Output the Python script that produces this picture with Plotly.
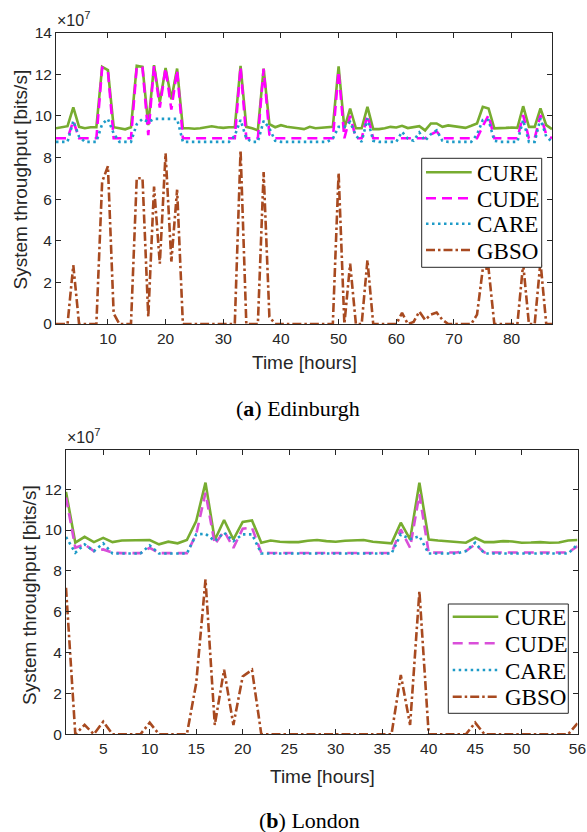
import plotly.graph_objects as go

# ---------------- data (values in units of 1e7 bits/s) ----------------
edi_hours = list(range(1, 88))
edi_cure = [9.4, 9.45, 9.5, 10.4, 9.47, 9.4, 9.45, 9.45, 12.35, 12.2,
            9.45, 9.4, 9.35, 9.45, 12.4, 12.35, 9.55, 12.43, 10.65, 12.3,
            10.8, 12.27, 9.4, 9.4, 9.38, 9.4, 9.45, 9.5, 9.45, 9.42,
            9.45, 9.45, 12.4, 9.47, 9.4, 9.3, 12.27, 9.6, 9.45, 9.55,
            9.47, 9.42, 9.4, 9.36, 9.47, 9.4, 9.42, 9.44, 9.47, 12.38,
            9.4, 10.35, 9.4, 9.4, 10.43, 9.36, 9.36, 9.4, 9.47, 9.44,
            9.52, 9.41, 9.46, 9.5, 9.3, 9.63, 9.63, 9.47, 9.54, 9.5,
            9.47, 9.42, 9.52, 9.63, 10.43, 10.35, 9.4, 9.4, 9.42, 9.44,
            9.42, 10.46, 9.47, 9.47, 10.35, 9.55, 9.36]
edi_cude = [8.92, 8.92, 8.92, 9.76, 8.92, 8.92, 8.92, 8.92, 12.3, 12.15,
            8.92, 8.92, 8.92, 8.92, 12.35, 12.3, 9.07, 12.4, 10.4, 12.3,
            10.3, 12.2, 8.92, 8.92, 8.92, 8.92, 8.92, 8.92, 8.92, 8.92,
            8.92, 8.92, 12.35, 8.92, 8.92, 8.92, 12.25, 9.1, 8.92, 8.92,
            8.92, 8.92, 8.92, 8.92, 8.92, 8.92, 8.92, 8.92, 8.92, 12.15,
            8.92, 10.0, 8.92, 8.92, 10.03, 8.92, 8.92, 8.92, 8.92, 8.92,
            8.92, 8.92, 8.92, 8.92, 8.92, 9.1, 9.25, 8.92, 8.92, 8.92,
            8.92, 8.92, 8.92, 8.92, 9.5, 10.03, 8.92, 8.92, 8.92, 8.92,
            8.92, 10.03, 8.92, 8.92, 10.03, 9.1, 8.92]
edi_care = [8.75, 8.75, 8.75, 9.75, 9.0, 8.75, 8.75, 8.75, 9.6, 9.85,
            9.15, 8.75, 8.75, 8.75, 9.6, 9.85, 9.7, 9.85, 9.85, 9.85,
            9.85, 9.85, 8.75, 8.75, 8.75, 8.75, 8.75, 8.75, 8.75, 8.75,
            8.75, 9.05, 9.8, 8.9, 8.75, 8.75, 9.76, 9.4, 8.8, 8.75,
            8.75, 8.75, 8.75, 8.75, 8.75, 8.75, 8.75, 8.75, 8.9, 9.47,
            9.47, 9.7, 9.05, 8.75, 9.87, 8.8, 8.75, 8.75, 8.75, 8.75,
            9.23, 8.9, 8.8, 9.2, 8.8, 9.12, 9.3, 8.8, 8.75, 8.75,
            8.75, 8.75, 8.75, 9.1, 9.8, 9.8, 8.8, 8.75, 8.75, 8.75,
            8.75, 9.8, 8.75, 8.75, 9.87, 9.0, 8.75]
edi_gbso = [0, 0, 0, 2.83, 0, 0, 0, 0, 6.83, 7.58,
            0.5, 0, 0, 0, 7.0, 7.0, 0.35, 6.6, 2.9, 8.2,
            3.0, 6.45, 0, 0, 0, 0, 0, 0, 0, 0,
            0, 0, 8.35, 0, 0, 0, 7.3, 0.35, 0, 0,
            0, 0, 0, 0, 0, 0, 0, 0, 0, 7.26,
            0, 2.9, 0, 0, 3.07, 0, 0, 0, 0, 0,
            0.53, 0, 0.1, 0.6, 0.2, 0.45, 0.55, 0.2, 0, 0,
            0, 0, 0, 0.45, 2.65, 2.67, 0, 0, 0, 0,
            0, 2.9, 0, 0, 3.0, 0, 0]

lon_hours = list(range(1, 57))
lon_cure = [11.87, 9.38, 9.67, 9.41, 9.62, 9.41, 9.49, 9.49, 9.51, 9.51,
            9.3, 9.43, 9.35, 9.51, 10.44, 12.32, 9.51, 10.49, 9.54, 10.4,
            10.47, 9.38, 9.49, 9.43, 9.41, 9.41, 9.48, 9.51, 9.46, 9.43,
            9.48, 9.49, 9.51, 9.43, 9.38, 9.35, 10.36, 9.54, 12.32, 9.54,
            9.49, 9.46, 9.43, 9.38, 9.62, 9.41, 9.41, 9.46, 9.44, 9.38,
            9.39, 9.41, 9.38, 9.39, 9.49, 9.51]
lon_cude = [11.6, 9.13, 9.3, 8.97, 9.05, 8.89, 8.87, 8.87, 8.87, 9.13,
            8.87, 8.87, 8.87, 8.87, 9.79, 11.83, 9.3, 9.95, 9.13, 10.07,
            10.11, 8.89, 8.88, 8.88, 8.88, 8.88, 8.88, 8.88, 8.88, 8.88,
            8.88, 8.88, 8.88, 8.88, 8.88, 8.88, 10.03, 9.13, 11.75, 8.89,
            8.9, 8.9, 8.9, 8.97, 9.3, 8.9, 8.9, 8.9, 8.9, 8.9,
            8.9, 8.9, 8.9, 8.9, 8.9, 9.21]
lon_care = [9.66, 8.89, 9.3, 8.97, 9.35, 8.85, 8.85, 8.85, 8.85, 9.25,
            8.85, 8.85, 8.85, 8.85, 9.79, 9.82, 9.46, 9.87, 9.46, 9.79,
            9.79, 8.85, 8.85, 8.85, 8.85, 8.85, 8.85, 8.85, 8.85, 8.85,
            8.85, 8.85, 8.85, 8.85, 8.85, 8.85, 9.79, 9.55, 9.7, 8.85,
            8.85, 8.85, 8.85, 8.97, 9.38, 8.85, 8.85, 8.85, 8.85, 8.85,
            8.85, 8.85, 8.85, 8.85, 8.85, 9.3]
lon_gbso = [7.17, 0, 0.46, 0, 0.62, 0, 0, 0, 0, 0.57,
            0, 0, 0, 0, 2.5, 7.58, 0.46, 3.16, 0.46, 2.83,
            3.16, 0, 0, 0, 0, 0, 0, 0, 0, 0,
            0, 0, 0, 0, 0, 0, 2.91, 0.46, 7.0, 0,
            0, 0, 0, 0, 0.57, 0, 0, 0, 0, 0,
            0, 0, 0, 0, 0, 0.54]

SCALE = 1e7
y_tick_vals = [0, 2, 4, 6, 8, 10, 12, 14]
y_tick_vals_lon = [0, 2, 4, 6, 8, 10, 12]
edi_x_ticks = [10, 20, 30, 40, 50, 60, 70, 80]
lon_x_ticks = [5, 10, 15, 20, 25, 30, 35, 40, 45, 50, 56]

names = ["CURE", "CUDE", "CARE", "GBSO"]

# ---------------- styles ----------------
W, H = 587, 832
C_CURE = "#77AC30"
C_CUDE_A = "#FF00FF"
C_CUDE_B = "#D94FD9"
C_CARE = "#1E9BC8"
C_GBSO = "#A84A20"
LW = 2.6
styles_a = [dict(color=C_CURE, width=LW, dash="solid"),
            dict(color=C_CUDE_A, width=LW, dash="10px,6px"),
            dict(color=C_CARE, width=LW, dash="2.5px,3.5px"),
            dict(color=C_GBSO, width=LW, dash="9px,3px,2.5px,3px")]
styles_b = [dict(color=C_CURE, width=LW, dash="solid"),
            dict(color=C_CUDE_B, width=LW, dash="10px,6px"),
            dict(color=C_CARE, width=LW, dash="2.5px,3.5px"),
            dict(color=C_GBSO, width=LW, dash="9px,3px,2.5px,3px")]

fig = go.Figure()

edi_series = [edi_cure, edi_cude, edi_care, edi_gbso]
lon_series = [lon_cure, lon_cude, lon_care, lon_gbso]

for name, vals, st in zip(names, edi_series, styles_a):
    fig.add_trace(go.Scatter(x=edi_hours, y=[v * SCALE for v in vals], mode="lines",
                             name=name, line=st, xaxis="x", yaxis="y", showlegend=False))
for name, vals, st in zip(names, lon_series, styles_b):
    fig.add_trace(go.Scatter(x=lon_hours, y=[v * SCALE for v in vals], mode="lines",
                             name=name, line=st, xaxis="x2", yaxis="y2", showlegend=False))

AX = "#262626"
tickfont = dict(family="Liberation Sans, Arial, sans-serif", size=15.5, color=AX)
common = dict(showline=True, linecolor=AX, linewidth=1, mirror="ticks", ticks="inside",
              ticklen=5, tickcolor=AX, tickwidth=1, tickfont=tickfont,
              showgrid=False, zeroline=False, automargin=False)

def px_x(p):
    return p / W

def px_y(p):
    return (H - p) / H

fig.update_layout(
    width=W, height=H, margin=dict(l=0, r=0, t=0, b=0, autoexpand=False),
    paper_bgcolor="white", plot_bgcolor="white",
    xaxis=dict(domain=[px_x(56), px_x(552)], range=[1, 87.001], anchor="y",
               tickvals=edi_x_ticks, **common),
    yaxis=dict(domain=[px_y(324), px_y(32.5)], range=[0, 14.001 * SCALE], anchor="x",
               tickvals=[v * SCALE for v in y_tick_vals],
               ticktext=[str(v) for v in y_tick_vals], **common),
    xaxis2=dict(domain=[px_x(66), px_x(577.5)], range=[0.999, 56.001], anchor="y2",
                tickvals=lon_x_ticks, **common),
    yaxis2=dict(domain=[px_y(734.3), px_y(450)], range=[0, 13.92 * SCALE], anchor="x2",
                tickvals=[v * SCALE for v in y_tick_vals_lon],
                ticktext=[str(v) for v in y_tick_vals_lon], **common),
    showlegend=False,
)

# ---------------- legends (drawn as boxed keys) ----------------
legend_font = dict(family="Liberation Serif, Times New Roman, serif", size=23, color="#000000")
legend_boxes = [
    dict(box=(421.7, 158.3, 541.7, 267.3), rows=(172.3, 198.3, 223.8, 250.0),
         line=(426, 471.7), text_x=475, styles=styles_a),
    dict(box=(448.3, 604.0, 568.3, 713.3), rows=(616.7, 643.3, 670.0, 696.7),
         line=(452.7, 498.3), text_x=502.7, styles=styles_b),
]
shapes = []
annotations = []
for lg in legend_boxes:
    x0, y0, x1, y1 = lg["box"]
    shapes.append(dict(type="rect", xref="paper", yref="paper", layer="above",
                       x0=px_x(x0), x1=px_x(x1), y0=px_y(y1), y1=px_y(y0),
                       fillcolor="white", line=dict(color=AX, width=1)))
    for name, ry, st in zip(names, lg["rows"], lg["styles"]):
        shapes.append(dict(type="line", xref="paper", yref="paper", layer="above",
                           x0=px_x(lg["line"][0]), x1=px_x(lg["line"][1]),
                           y0=px_y(ry), y1=px_y(ry), line=st))
        annotations.append(dict(text=name, x=px_x(lg["text_x"]), y=px_y(ry + 1),
                                xanchor="left", yanchor="middle", font=legend_font))

title_font = dict(family="Liberation Sans, Arial, sans-serif", size=19, color=AX)
cap_font = dict(family="Liberation Serif, Times New Roman, serif", size=22, color="#000000")
exp_font = dict(family="Liberation Sans, Arial, sans-serif", size=16, color=AX)

annotations += [
    dict(text="Time [hours]", x=px_x(304), y=px_y(363), font=title_font),
    dict(text="System throughput [bits/s]", x=px_x(19.5), y=px_y(180), textangle=-90, font=title_font),
    dict(text="Time [hours]", x=px_x(322.5), y=px_y(776.5), font=title_font),
    dict(text="System throughput [bits/s]", x=px_x(29), y=px_y(595), textangle=-90, font=title_font),
    dict(text="(<b>a</b>) Edinburgh", x=px_x(297.5), y=px_y(408), font=cap_font),
    dict(text="(<b>b</b>) London", x=px_x(309), y=px_y(820), font=cap_font),
    dict(text="×10<sup>7</sup>", x=px_x(55), y=px_y(31), xanchor="left", yanchor="bottom", font=exp_font),
    dict(text="×10<sup>7</sup>", x=px_x(65), y=px_y(448), xanchor="left", yanchor="bottom", font=exp_font),
]
for a in annotations:
    a.setdefault("xanchor", "center")
    a.setdefault("yanchor", "middle")
    fig.add_annotation(xref="paper", yref="paper", showarrow=False, **a)

fig.update_layout(shapes=shapes)
fig.write_html("out.html")
